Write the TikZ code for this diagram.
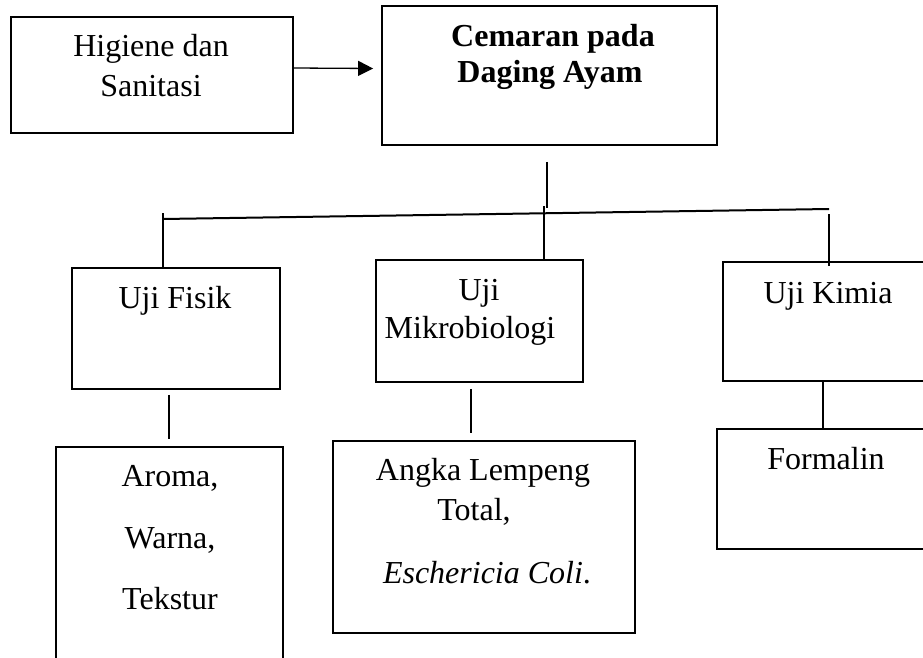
\documentclass[tikz,border=0pt]{standalone}
\usepackage{fontspec}
\setmainfont{Liberation Serif}
\usetikzlibrary{arrows.meta}
\begin{document}
\begin{tikzpicture}[x=1pt,y=-1pt,
  box/.style={draw, line width=1.8pt, rectangle, inner sep=0pt},
  lbl/.style={font=\fontsize{32}{40}\selectfont, inner sep=0pt, anchor=base},
  conn/.style={line width=1.3pt},
  hline/.style={line width=2pt},
  arr/.style={line width=1.3pt, -{Triangle[length=15pt,width=15pt]}}]
\useasboundingbox (0,0) rectangle (923,658);
\clip (0,0) rectangle (923,658);
% boxes
\node[box, minimum width=282pt, minimum height=116pt] (hig) at (152,75) {};
\node[box, minimum width=335pt, minimum height=139pt] (cem) at (549.5,75.5) {};
\node[box, minimum width=208pt, minimum height=121pt] (fisik) at (176,328.5) {};
\node[box, minimum width=207pt, minimum height=122pt] (mik) at (479.5,321) {};
\node[box, minimum width=237pt, minimum height=119pt] (kimia) at (841.5,321.5) {};
\node[box, minimum width=227pt, minimum height=253pt] (aroma) at (169.5,573.5) {};
\node[box, minimum width=302pt, minimum height=192pt] (angka) at (484,537) {};
\node[box, minimum width=243pt, minimum height=120pt] (formalin) at (838.5,489) {};
% texts
\node[lbl] (t-hig1) at (151,57) {Higiene dan};
\node[lbl] (t-hig2) at (151,97) {Sanitasi};
\node[lbl] (t-cem1) at (553,47) {\bfseries Cemaran pada};
\node[lbl] (t-cem2) at (550,83) {\bfseries Daging Ayam};
\node[lbl] (t-fis) at (175,308) {Uji Fisik};
\node[lbl] (t-mik1) at (479,300) {Uji};
\node[lbl] (t-mik2) at (470,338) {Mikrobiologi};
\node[lbl] (t-kim) at (828,303) {Uji Kimia};
\node[lbl] (t-aro1) at (170,486) {Aroma,};
\node[lbl] (t-aro2) at (170,548) {Warna,};
\node[lbl] (t-aro3) at (170,609) {Tekstur};
\node[lbl] (t-ang1) at (483,480) {Angka Lempeng};
\node[lbl] (t-ang2) at (474,520) {Total,};
\node[lbl] (t-ang3) at (487,583) {\textit{Eschericia Coli}.};
\node[lbl] (t-for) at (826,469) {Formalin};
% connector helper coordinates
\coordinate (hl) at (163,219);
\coordinate (hr) at (829,209);
\coordinate (xm1) at (547,0);
\coordinate (xm2) at (544,0);
\coordinate (xl) at (163,213);
\coordinate (xr) at (829,214);
\coordinate (x1) at (169,0);
\coordinate (x2) at (471,0);
\coordinate (x3) at (823,0);
% connectors
\draw[arr] ([yshift=7pt]hig.east) -- ([xshift=-8pt,yshift=7pt]cem.west);
\draw[conn] ([yshift=-16pt]cem.south -| xm1) -- ([yshift=-62pt]cem.south -| xm1);
\draw[hline] (hl) -- (hr);
\draw[conn] (xl) -- (fisik.north -| xl);
\draw[conn] ([yshift=53pt]mik.north -| xm2) -- (mik.north -| xm2);
\draw[conn] (xr) -- ([yshift=-5pt]kimia.north -| xr);
\draw[conn] ([yshift=-5pt]fisik.south -| x1) -- ([yshift=7pt]aroma.north -| x1);
\draw[conn] ([yshift=-6pt]mik.south -| x2) -- ([yshift=7pt]angka.north -| x2);
\draw[conn] (kimia.south -| x3) -- (formalin.north -| x3);
\end{tikzpicture}
\end{document}
